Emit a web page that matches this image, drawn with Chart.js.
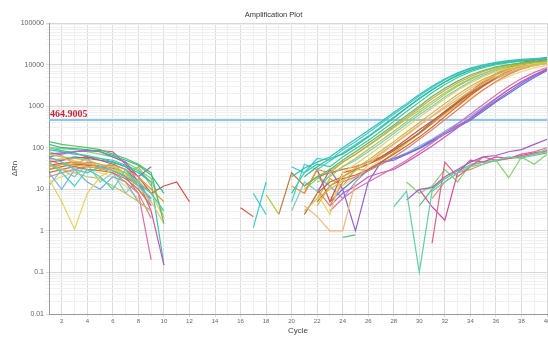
<!DOCTYPE html>
<html>
<head>
<meta charset="utf-8">
<script src="https://cdn.jsdelivr.net/npm/chart.js@4.4.0/dist/chart.umd.min.js"></script>
<style>
  html, body { margin: 0; padding: 0; background: #fff; }
  #wrap { width: 548px; height: 337px; }
</style>
</head>
<body>
<div id="wrap"><canvas id="plot" width="548" height="337"></canvas></div>
<script>
const n = null;

const cycles = [1, 2, 3, 4, 5, 6, 7, 8, 9, 10, 11, 12, 13, 14, 15, 16, 17, 18, 19, 20,
                21, 22, 23, 24, 25, 26, 27, 28, 29, 30, 31, 32, 33, 34, 35, 36, 37, 38, 39, 40];

const yMajorTicks = [0.01, 0.1, 1, 10, 100, 1000, 10000, 100000];
const thresholdValue = 464.9005;

// wells that amplify (cycles 1..40, null = below baseline)
const wellA1 = [90, 80, 70, 65, 55, 45, 35, 25, 15, n, n, n, n, n, n, n, n, n, n, 20,
                32, 45, 60, 100, 160, 260, 420, 700, 1150, 1900, 3000, 4500, 6300, 8200, 9900, 11300, 12400, 13300, 14000, 14600];
const wellA2 = [60, 45, 30, 25, 35, 28, 20, 14, 8, 3, n, n, n, n, n, n, 1.2, 15, n, 35,
                25, 55, 50, 90, 140, 230, 380, 640, 1050, 1750, 2800, 4300, 6000, 7900, 9500, 10900, 12000, 12900, 13600, 14200];
const wellA3 = [120, 100, 95, 90, 80, 65, 50, 38, 22, 8, n, n, n, n, n, n, n, n, n, n,
                20, 35, 55, 70, 110, 180, 300, 520, 900, 1500, 2450, 3800, 5500, 7300, 9000, 10500, 11600, 12500, 13200, 13900];
const wellA4 = [45, 25, 12, 30, 20, 10, 30, 12, 6, n, n, n, n, n, n, n, 8, 2.5, n, 5,
                40, 30, 48, 75, 120, 190, 320, 550, 920, 1550, 2500, 3850, 5500, 7300, 9000, 10400, 11500, 12400, 13100, 13700];
const wellA5 = [140, 120, 110, 100, 90, 70, 55, 40, 25, 1.5, n, n, n, n, n, n, n, n, n, n,
                12, 20, 30, 50, 80, 130, 210, 350, 600, 1000, 1700, 2700, 4000, 5600, 7200, 8800, 10000, 11000, 11800, 12400];
const wellA6 = [30, 40, 45, 40, 35, 38, 30, 20, 10, 5, n, n, n, n, n, n, n, n, n, 12,
                8, 30, 25, 45, 70, 115, 190, 320, 540, 900, 1500, 2400, 3600, 5100, 6800, 8400, 9700, 10800, 11700, 12400];
const wellA7 = [70, 60, 55, 50, 40, 35, 25, 15, 8, 3, n, n, n, n, n, n, n, 7.5, 2.5, n,
                n, 15, 20, 35, 55, 90, 150, 250, 420, 700, 1150, 1900, 3000, 4400, 6000, 7600, 9000, 10200, 11100, 11800];
const wellA8 = [18, 5, 1.1, 8, 20, 30, 25, 15, 8, 2, n, n, n, n, n, n, n, n, n, n,
                n, 8, 2.5, 25, 40, 65, 110, 190, 320, 540, 900, 1500, 2400, 3600, 5100, 6700, 8200, 9500, 10600, 11400];
const wellA9 = [35, 40, 38, 35, 32, 30, 25, 12, 6, n, n, n, n, n, n, n, n, n, n, n,
                n, 4, 12, 20, 32, 50, 85, 140, 240, 400, 680, 1150, 1900, 3000, 4400, 6000, 7600, 9000, 10200, 11100];
const wellA10 = [50, 55, 48, 42, 40, 30, 22, 12, 5, 1.5, n, n, n, n, n, n, n, n, n, n,
                 4, 2.2, 1.0, 1.0, 15, 40, 70, 120, 200, 340, 580, 1000, 1650, 2650, 4000, 5600, 7200, 8700, 9900, 10900];
const wellA11 = [40, 30, 25, 20, 18, 12, 8, 5, 3, n, n, n, n, n, n, n, n, n, n, n,
                 3, 6, 10, 16, 28, 45, 75, 125, 210, 350, 560, 900, 1450, 2300, 3500, 5000, 6600, 8100, 9400, 10500];
const wellA12 = [45, 50, 55, 60, 50, 45, 35, 20, 8, 12, 15, 5, n, n, n, 3.6, 2.2, n, n, n,
                 8, 30, 5, 25, 30, 40, 60, 95, 160, 270, 440, 720, 1200, 2000, 3200, 4900, 7000, 9300, 11500, 13300];
const wellA13 = [30, 35, 40, 38, 36, 32, 25, 15, 8, n, n, n, n, n, n, n, n, n, n, n,
                 2.5, 8, 15, 20, 30, 40, 55, 85, 140, 230, 420, 750, 1300, 2300, 3800, 6000, 8500, 11000, 13200, 15000];
const wellA14 = [25, 30, 35, 30, 28, 25, 18, 10, 4, n, n, n, n, n, n, n, n, n, 2.5, 25,
                 12, 20, 25, 30, 35, 45, 60, 90, 140, 220, 380, 680, 1200, 2100, 3500, 5600, 8000, 10500, 12700, 14500];
const wellA15 = [38, 42, 45, 40, 35, 28, 20, 12, 6, n, n, n, n, n, n, n, n, n, n, n,
                 n, 5, 12, 18, 22, 30, 45, 70, 110, 180, 310, 560, 1000, 1800, 3000, 4800, 7000, 9400, 11600, 13500];
const wellA16 = [20, 25, 30, 35, 32, 25, 15, 8, 2, n, n, n, n, n, n, n, n, n, n, n,
                 n, 10, 4, 15, 20, 28, 40, 60, 95, 160, 270, 470, 820, 1450, 2450, 3900, 5800, 7800, 9600, 11000];
const wellA17 = [50, 40, 35, 45, 40, 30, 20, 8, 0.2, n, n, n, n, n, n, n, n, n, n, n,
                 n, n, 3, 6, 10, 15, 22, 33, 50, 80, 130, 220, 380, 650, 1100, 1850, 3000, 4600, 6500, 8500];
const wellA18 = [60, 70, 80, 85, 85, 80, 40, 15, 3, 0.15, n, n, n, n, n, n, n, n, n, n,
                 n, n, 4, 8, 12, 20, 25, 30, 45, 70, 110, 180, 300, 520, 880, 1500, 2500, 3900, 5700, 7800];
const wellA19 = [70, 75, 80, 85, 80, 60, 45, 20, 35, n, n, n, n, n, n, n, n, n, n, n,
                 n, 8, 30, 10, 1.0, 15, 45, 50, 70, 100, 150, 230, 340, 500, 820, 1350, 2200, 3500, 5300, 7600];
const wellA20 = [55, 50, 60, 55, 50, 40, 30, 15, 5, n, n, n, n, n, n, n, n, n, n, n,
                 n, n, 5, 10, 18, 28, 40, 55, 70, 95, 140, 210, 310, 460, 750, 1250, 2000, 3200, 4900, 7200];
const wellA21 = [25, 10, 30, 15, 10, 20, 15, 5, 3, n, n, n, n, n, n, n, n, n, n, n,
                 n, 20, 12, 6, 15, 30, 45, 55, 75, 110, 160, 250, 380, 580, 950, 1550, 2500, 3800, 5500, 7800];
const wellA22 = [15, 20, 25, 28, 25, 20, 12, 6, n, n, n, n, n, n, n, n, n, n, n, n,
                 n, n, 6, 12, 20, 32, 52, 85, 140, 230, 380, 620, 1000, 1600, 2500, 3700, 5200, 6800, 8300, 9600];
const wellA23 = [100, 95, 90, 80, 70, 60, 45, 30, 18, 2, n, n, n, n, n, n, n, n, n, n,
                 10, 18, 28, 45, 70, 110, 180, 300, 490, 800, 1300, 2100, 3200, 4600, 6200, 7800, 9200, 10400, 11300, 12000];
const wellA24 = [100, 85, 75, 60, 55, 50, 38, 28, 15, 0.15, n, n, n, n, n, n, n, n, n, 8,
                 25, 40, 35, 60, 95, 150, 250, 430, 740, 1250, 2100, 3300, 4900, 6700, 8400, 9900, 11100, 12100, 12900, 13500];
const wellA25 = [80, 65, 40, 55, 30, 45, 20, 35, 12, n, n, n, n, n, n, n, n, n, n, n,
                 n, 6, 18, 12, 30, 28, 45, 75, 130, 220, 380, 650, 1100, 1850, 3000, 4500, 6300, 8100, 9700, 11000];
const wellA26 = [12, 30, 20, 40, 15, 25, 8, 18, 4, n, n, n, n, n, n, n, n, n, n, 3,
                 15, 9, 22, 35, 50, 80, 130, 220, 370, 620, 1000, 1650, 2600, 3900, 5500, 7100, 8600, 9800, 10800, 11600];

// wells that stay flat (only late cycles above baseline)
const wellB1 = [n, n, n, n, n, n, n, n, n, n, n, n, n, n, n, n, n, n, n, n,
                n, n, n, n, n, n, n, 3.8, 9, 0.1, 9, 15, 25, 35, 40, 50, 60, 55, 70, 90];
const wellB2 = [n, n, n, n, n, n, n, n, n, n, n, n, n, n, n, n, n, n, n, n,
                n, n, n, n, n, n, n, n, n, n, 0.5, 45, 20, 35, 60, 50, 55, 70, 80, 100];
const wellB3 = [n, n, n, n, n, n, n, n, n, n, n, n, n, n, n, n, n, n, n, n,
                n, n, n, n, n, n, n, n, 5.5, 10, 11, 20, 30, 45, 60, 65, 80, 90, 120, 160];
const wellB4 = [n, n, n, n, n, n, n, n, n, n, n, n, n, n, n, n, n, n, n, n,
                n, n, n, n, n, n, n, n, n, 10, 3.8, 1.8, 25, 50, 45, 60, 55, 65, 75, 85];
const wellB5 = [n, n, n, n, n, n, n, n, n, n, n, n, n, n, n, n, n, n, n, n,
                n, n, n, n, n, n, n, n, 15, 8, 12, 30, 15, 40, 45, 50, 19, 60, 40, 70];
const wellB6 = [n, n, n, n, n, n, n, n, n, n, n, n, n, n, n, n, n, n, n, n,
                n, n, n, 0.7, 0.8, n, n, n, n, 4, 10, 18, 28, 38, 45, 48, 55, 60, 65, 75];
const wellB7 = [n, n, n, n, n, n, n, n, n, n, n, n, n, n, n, n, n, n, n, n,
                n, n, n, n, n, n, n, n, n, n, 6, 15, 25, 30, 40, 50, 55, 60, 70, 80];

const wells = [
  [wellA1, '#2fc0b0'], [wellA2, '#40c8d8'], [wellA3, '#30b890'], [wellA4, '#48d0c0'],
  [wellA5, '#58c060'], [wellA6, '#e89a40'], [wellA7, '#a8cc40'], [wellA8, '#e8d060'],
  [wellA9, '#d8b040'], [wellA10, '#f0b878'], [wellA11, '#c8c060'], [wellA12, '#d85040'],
  [wellA13, '#b07038'], [wellA14, '#c07a40'], [wellA15, '#c86830'], [wellA16, '#e08070'],
  [wellA17, '#e070a8'], [wellA18, '#c858c0'], [wellA19, '#9060d0'], [wellA20, '#5878d8'],
  [wellA21, '#70b0e8'], [wellA22, '#f0d878'], [wellA23, '#90d070'], [wellA24, '#38c8a0'],
  [wellA25, '#d4a848'], [wellA26, '#7cc8d0'],
  [wellB1, '#60d0a8'], [wellB2, '#e06090'], [wellB3, '#a060c8'], [wellB4, '#d050a0'],
  [wellB5, '#88d070'], [wellB6, '#60c080'], [wellB7, '#e09060']
];

const datasets = wells.map(([vals, col]) => ({
  data: vals,
  borderColor: col,
  borderWidth: 1.2,
  pointRadius: 0,
  tension: 0,
  spanGaps: false
}));

datasets.push({
  data: [{ x: cycles[0], y: thresholdValue }, { x: cycles[cycles.length - 1], y: thresholdValue }],
  borderColor: '#8ec5e8',
  borderWidth: 2,
  pointRadius: 0
});

const isMajor = (v) => Math.abs(Math.log10(v) - Math.round(Math.log10(v))) < 1e-9;

const thresholdLabel = {
  id: 'thresholdLabel',
  afterDatasetsDraw(chart) {
    const { ctx, scales } = chart;
    const y = scales.y.getPixelForValue(thresholdValue);
    ctx.save();
    ctx.font = 'bold 10px "Liberation Serif"';
    ctx.fillStyle = '#c8283a';
    ctx.textBaseline = 'bottom';
    ctx.fillText(thresholdValue.toFixed(4), chart.chartArea.left + 1, y - 1);
    ctx.restore();
  }
};

new Chart(document.getElementById('plot'), {
  type: 'line',
  data: { labels: cycles, datasets: datasets },
  plugins: [thresholdLabel],
  options: {
    responsive: false,
    animation: false,
    layout: { padding: { left: 0, right: 1, top: 0, bottom: 0 } },
    plugins: {
      legend: { display: false },
      tooltip: { enabled: false },
      title: {
        display: true,
        text: 'Amplification Plot',
        color: '#333',
        font: { family: 'Liberation Sans', size: 7.5, weight: 'normal' },
        padding: { top: 10, bottom: 4 }
      }
    },
    scales: {
      x: {
        type: 'linear',
        min: 1,
        max: 40,
        afterFit(scale) { scale.height = 23; scale.paddingLeft = 0; scale.paddingRight = 0; },
        ticks: {
          stepSize: 1,
          autoSkip: false,
          maxRotation: 0,
          padding: 1,
          color: '#666',
          font: { family: 'Liberation Sans', size: 6 },
          callback: (v) => (v % 2 === 0 ? String(v) : '')
        },
        grid: {
          color: (c) => (c.tick && c.tick.value % 2 === 0 ? '#dcdcdc' : '#efefef'),
          tickLength: 3
        },
        border: { color: '#9a9a9a' },
        title: {
          display: true,
          text: 'Cycle',
          color: '#444',
          font: { family: 'Liberation Sans', size: 8 },
          padding: { top: 0, bottom: 1 }
        }
      },
      y: {
        type: 'logarithmic',
        min: 0.01,
        max: 100000,
        afterBuildTicks(scale) {
          const t = [];
          yMajorTicks.forEach((m, i) => {
            t.push({ value: m });
            if (i < yMajorTicks.length - 1) {
              for (let k = 2; k <= 9; k++) t.push({ value: m * k });
            }
          });
          scale.ticks = t;
        },
        afterFit(scale) { scale.width = 49; scale.paddingTop = 0; scale.paddingBottom = 0; },
        ticks: {
          autoSkip: false,
          padding: 2,
          color: '#666',
          font: { family: 'Liberation Sans', size: 7 },
          callback: (v) => {
            if (!isMajor(v)) return '';
            const e = Math.round(Math.log10(v));
            return e < 0 ? v.toFixed(-e) : String(Math.round(v));
          }
        },
        grid: {
          color: (c) => (c.tick && isMajor(c.tick.value) ? '#d8d8d8' : '#f0f0f0'),
          tickLength: 3
        },
        border: { color: '#9a9a9a' },
        title: {
          display: true,
          text: 'ΔRn',
          color: '#444',
          font: { family: 'Liberation Sans', size: 8 },
          padding: { top: 10, bottom: 4 }
        }
      }
    }
  }
});
</script>
</body>
</html>
